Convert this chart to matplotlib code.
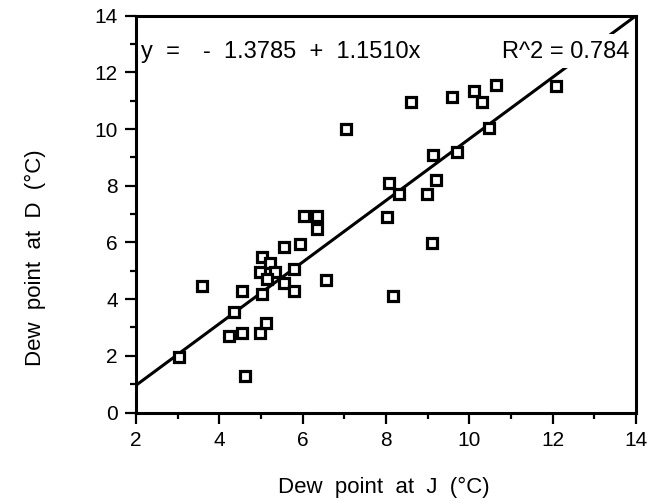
import matplotlib
matplotlib.use("Agg")
import matplotlib.pyplot as plt
from matplotlib.patches import Rectangle
from matplotlib.ticker import MultipleLocator

plt.rcParams['font.family'] = ['Liberation Sans', 'DejaVu Sans']

# Data
dew_j = [3.02, 3.58, 4.22, 4.34, 4.54, 4.54, 4.62, 4.98, 5.02, 5.12,
         5.02, 5.22, 4.98, 5.34, 5.14, 5.54, 5.78, 5.78, 5.54, 5.94,
         6.02, 6.35, 6.35, 6.55, 7.03, 8.07, 8.31, 8.03, 8.17, 8.99,
         9.19, 9.11, 9.12, 9.71, 8.59, 9.59, 10.11, 10.31, 10.47, 10.63,
         12.08]
dew_d = [1.95, 4.45, 2.70, 3.55, 2.80, 4.30, 1.30, 2.80, 4.17, 3.16,
         5.47, 5.28, 4.95, 4.95, 4.72, 4.58, 4.30, 5.08, 5.85, 5.95,
         6.95, 6.95, 6.47, 4.67, 10.00, 8.10, 7.70, 6.90, 4.12, 7.70,
         8.19, 5.97, 9.10, 9.20, 10.95, 11.13, 11.35, 10.95, 10.04, 11.55,
         11.52]

fit_x = [2.0, 14.0]
fit_y = [0.96, 14.0]
eq_parts = ["y  =", "-  1.3785  +  1.1510x", "R^2 = 0.784"]

xlabel = "Dew  point  at  J  (°C)"
ylabel = "Dew  point  at  D  (°C)"

fig = plt.figure(figsize=(6.52, 5.04), dpi=100)
ax = fig.add_axes([136/652, 1 - 412.5/504, 500/652, 396.8/504])

ax.plot(fit_x, fit_y, color='black', lw=2.2, zorder=2, solid_capstyle='butt')
ax.plot(dew_j, dew_d, linestyle='none', marker='s', ms=7, mew=2.3,
        mfc='white', mec='black', zorder=3)

ax.set_xlim(2, 14)
ax.set_ylim(0, 14)
ax.xaxis.set_major_locator(MultipleLocator(2))
ax.xaxis.set_minor_locator(MultipleLocator(1))
ax.yaxis.set_major_locator(MultipleLocator(2))
ax.yaxis.set_minor_locator(MultipleLocator(1))
ax.tick_params(which='both', direction='out', top=False, right=False,
               labelsize=15, width=1.6, colors='black')
ax.tick_params(which='major', length=8, pad=5)
ax.tick_params(which='minor', length=4)
for s in ax.spines.values():
    s.set_linewidth(2.2)
    s.set_zorder(7)

# white box behind the equation (hides the fit line there)
ax.add_patch(Rectangle((140/652, 1 - 68/504), 490/652, 34/504,
                       transform=fig.transFigure, facecolor='white',
                       edgecolor='none', zorder=5, clip_on=False))
eq_x = [141, 203, 502]
for px, t in zip(eq_x, eq_parts):
    ax.text(px/652, 1 - 52/504, t, transform=fig.transFigure,
            fontsize=17, ha='left', va='center', zorder=6)

fig.text(384/652, 1 - 487/504, xlabel, ha='center', va='center', fontsize=16)
fig.text(35/652, 1 - 258/504, ylabel, ha='center', va='center', fontsize=16,
         rotation=90)

fig.savefig("out.png", dpi=100)
